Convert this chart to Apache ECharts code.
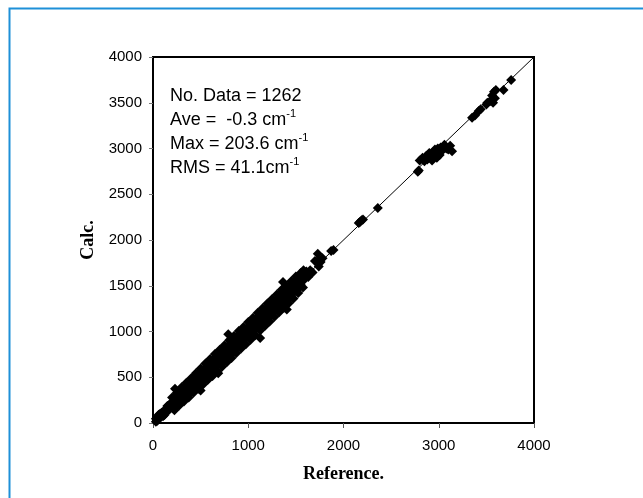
<!DOCTYPE html>
<html>
<head>
<meta charset="utf-8">
<script src="https://cdn.jsdelivr.net/npm/echarts@6/dist/echarts.min.js"></script>
<style>
  html, body { margin: 0; padding: 0; background: #fff; }
  #chart { width: 643px; height: 498px; }
</style>
</head>
<body>
<div id="chart"></div>
<script>
// tick labels
var xTicks = [0, 1000, 2000, 3000, 4000];
var yTicks = [0, 500, 1000, 1500, 2000, 2500, 3000, 3500, 4000];

// y = x reference line
var diagLine = [[0, 0], [4000, 4000]];

// [reference, calc] pairs
var lowBand = [
  [30,47],[30,15],[45,25],[45,60],[60,90],[60,50],[75,67],[75,100],[90,112],[90,73],
  [105,75],[105,113],[120,130],[120,88],[135,120],[135,157],[150,185],[150,147],[165,140],[165,195],
  [180,185],[180,160],[195,223],[195,205],[210,185],[210,160],[225,265],[225,260],[240,170],[240,225],
  [255,280],[255,310],[270,225],[270,240],[285,350],[285,295],[300,290],[300,240],[315,345],[315,355],
  [330,365],[330,275],[345,305],[345,375],[360,420],[360,340],[375,360],[375,425],[390,435],[390,355],
  [405,345],[405,420],[420,440],[420,355],[435,405],[435,480],[450,520],[450,445],[465,415],[465,525],
  [480,490],[480,440],[495,550],[495,515],[510,485],[510,460],[525,565],[525,560],[540,470],[540,525],
  [555,580],[555,610],[570,525],[570,540],[585,650],[585,595]
];

var midBand = [
  [600,590],[600,540],[615,645],[615,655],[630,665],[630,575],[645,605],[645,675],[660,720],[660,640],
  [675,660],[675,725],[690,735],[690,655],[705,645],[705,720],[720,740],[720,655],[735,705],[735,780],
  [750,820],[750,745],[765,715],[765,825],[780,790],[780,740],[795,850],[795,815],[810,785],[810,760],
  [825,865],[825,860],[840,770],[840,825],[855,880],[855,910],[870,825],[870,840],[885,950],[885,895],
  [900,890],[900,840],[915,945],[915,955],[930,965],[930,875],[945,905],[945,975],[960,1020],[960,940],
  [975,960],[975,1025],[990,1035],[990,955],[1005,945],[1005,1020],[1020,1040],[1020,955],[1035,1005],[1035,1080],
  [1050,1120],[1050,1045],[1065,1015],[1065,1125],[1080,1090],[1080,1040],[1095,1150],[1095,1115],[1110,1085],[1110,1060],
  [1125,1165],[1125,1160],[1140,1070],[1140,1125],[1155,1180],[1155,1210],[1170,1125],[1170,1140],[1185,1250],[1185,1195],
  [1200,1190],[1200,1140],[1215,1245],[1215,1255],[1230,1265],[1230,1175],[1245,1205],[1245,1275],[1260,1320],[1260,1240],
  [1275,1260],[1275,1325],[1290,1335],[1290,1255],[1305,1245],[1305,1320],[1320,1340],[1320,1255],[1335,1305],[1335,1380],
  [1350,1420],[1350,1345],[1365,1315],[1365,1425],[1380,1390],[1380,1340],[1395,1450],[1395,1415],[1410,1385],[1410,1360],
  [1425,1465],[1425,1460],[1440,1370],[1440,1425],[1455,1480],[1455,1510],[1470,1425],[1470,1440],[1485,1550],[1485,1495],
  [1500,1490],[1500,1440],[1515,1545],[1515,1555]
];

var fillBand = [
  [310,320],[340,385],[370,350],[400,445],[430,385],[460,475],[490,480],[520,525],[550,580],[580,545],
  [610,610],[640,665],[670,650],[700,745],[730,685],[760,775],[790,780],[820,825],[850,880],[880,845],
  [910,910],[940,965],[970,950],[1000,1045],[1030,985],[1060,1075],[1090,1080],[1120,1125],[1150,1180],[1180,1145],
  [1210,1210],[1240,1265],[1270,1250],[1300,1345],[1330,1285],[1360,1375],[1390,1380],[1420,1425],[1450,1480],[1480,1445]
];

var edgeBand = [
  [200,280],[225,140],[250,330],[275,190],[300,390],[325,235],[350,440],[375,280],[400,490],[425,330],
  [450,545],[475,375],[500,595],[525,420],[550,650],[575,470],[600,700],[625,515],[650,755],[675,565],
  [700,800],[725,615],[750,850],[775,665],[800,905],[825,710],[850,950],[875,765],[900,1005],[925,815],
  [950,1050],[975,860],[1000,1105],[1025,910],[1050,1150],[1075,960],[1100,1205],[1125,1010],[1150,1255],[1175,1060],
  [1200,1305],[1225,1110],[1250,1355],[1275,1160],[1300,1405],[1325,1210],[1350,1455],[1375,1260],[1400,1500],[1425,1310],
  [1450,1550],[1475,1360],[1500,1600],[1525,1420],[1550,1640],[1575,1480]
];

var upperBand = [
  [1530,1565],[1530,1475],[1550,1510],[1550,1580],[1570,1630],[1570,1550],[1590,1575],[1590,1640],
  [1610,1655],[1630,1595],[1650,1670],[1675,1645],[1700,1770],[1730,1850],[1735,1780],[1740,1710],
  [1760,1760],[1780,1800],[1870,1880],[1895,1890]
];

var outliers = [
  [231,375],[500,355],[685,545],[790,970],[1125,930],[1365,1540],[1405,1240],[1580,1670]
];

var highPoints = [
  [2160,2185],[2175,2200],[2190,2215],[2205,2225],[2360,2350],[2780,2745],[2790,2760],
  [2800,2870],[2830,2900],[2850,2860],[2870,2920],[2880,2880],[2900,2950],[2910,2900],[2930,2870],
  [2940,2960],[2950,2920],[2960,2990],[2970,2940],[2980,2900],[2990,3000],[3000,2960],[3010,2930],
  [3020,3010],[3040,2980],[3060,3040],[3080,3000],[3100,2990],[3120,3030],[3140,2970],
  [3350,3335],[3380,3360],[3420,3410],[3440,3430],[3500,3480],[3510,3500],[3540,3520],[3560,3580],
  [3570,3500],[3580,3620],[3590,3550],[3600,3640],[3680,3640],[3760,3750]
];

var allPoints = lowBand.concat(midBand, fillBand, edgeBand, upperBand, outliers, highPoints);

var chart = echarts.init(document.getElementById('chart'));

var labelFont = { fontFamily: 'Liberation Sans', fontSize: 15, color: '#000' };

var option = {
  animation: false,
  backgroundColor: '#fff',
  grid: {
    left: 153, right: 109, top: 57, bottom: 75,
    show: true, borderColor: '#000', borderWidth: 2
  },
  xAxis: {
    type: 'value', min: 0, max: 4000, interval: 1000,
    name: 'Reference.', nameLocation: 'middle', nameGap: 42,
    nameTextStyle: { fontFamily: 'Liberation Serif', fontWeight: 'bold', fontSize: 18, color: '#000' },
    axisLine: { lineStyle: { color: '#000', width: 2 } },
    axisTick: { show: true, length: 5, lineStyle: { color: '#555' } },
    axisLabel: Object.assign({ margin: 15, formatter: function (v) { return xTicks.indexOf(v) >= 0 ? v : ''; } }, labelFont),
    splitLine: { show: false }
  },
  yAxis: {
    type: 'value', min: 0, max: 4000, interval: 500,
    name: 'Calc.', nameLocation: 'middle', nameGap: 54,
    nameTextStyle: { fontFamily: 'Liberation Serif', fontWeight: 'bold', fontSize: 18, color: '#000' },
    axisLine: { lineStyle: { color: '#000', width: 2 } },
    axisTick: { show: true, length: 4, lineStyle: { color: '#777' } },
    axisLabel: Object.assign({ margin: 11, formatter: function (v) { return yTicks.indexOf(v) >= 0 ? v : ''; } }, labelFont),
    splitLine: { show: false }
  },
  graphic: [
    {
      type: 'rect', left: 7, top: 6, silent: true,
      shape: { width: 700, height: 600 },
      style: { fill: 'none', stroke: '#1e90d8', lineWidth: 2 }
    },
    {
      type: 'text', left: 170, top: 87,
      style: {
        text: '{t|No. Data = 1262}\n{t|Ave =  -0.3 cm}{s|-1}\n{t|Max = 203.6 cm}{s|-1}\n{t|RMS = 41.1cm}{s|-1}',
        rich: {
          t: { fontFamily: 'Liberation Sans', fontSize: 18, lineHeight: 24, fill: '#000' },
          s: { fontFamily: 'Liberation Sans', fontSize: 11, lineHeight: 24, verticalAlign: 'top', fill: '#000' }
        }
      }
    }
  ],
  series: [
    {
      type: 'line', data: diagLine, symbol: 'none', silent: true,
      lineStyle: { color: '#000', width: 1 }, z: 2
    },
    {
      type: 'scatter', data: allPoints, symbol: 'diamond', symbolSize: 10,
      itemStyle: { color: '#000', opacity: 1 }, z: 3
    }
  ]
};

chart.setOption(option);
</script>
</body>
</html>
